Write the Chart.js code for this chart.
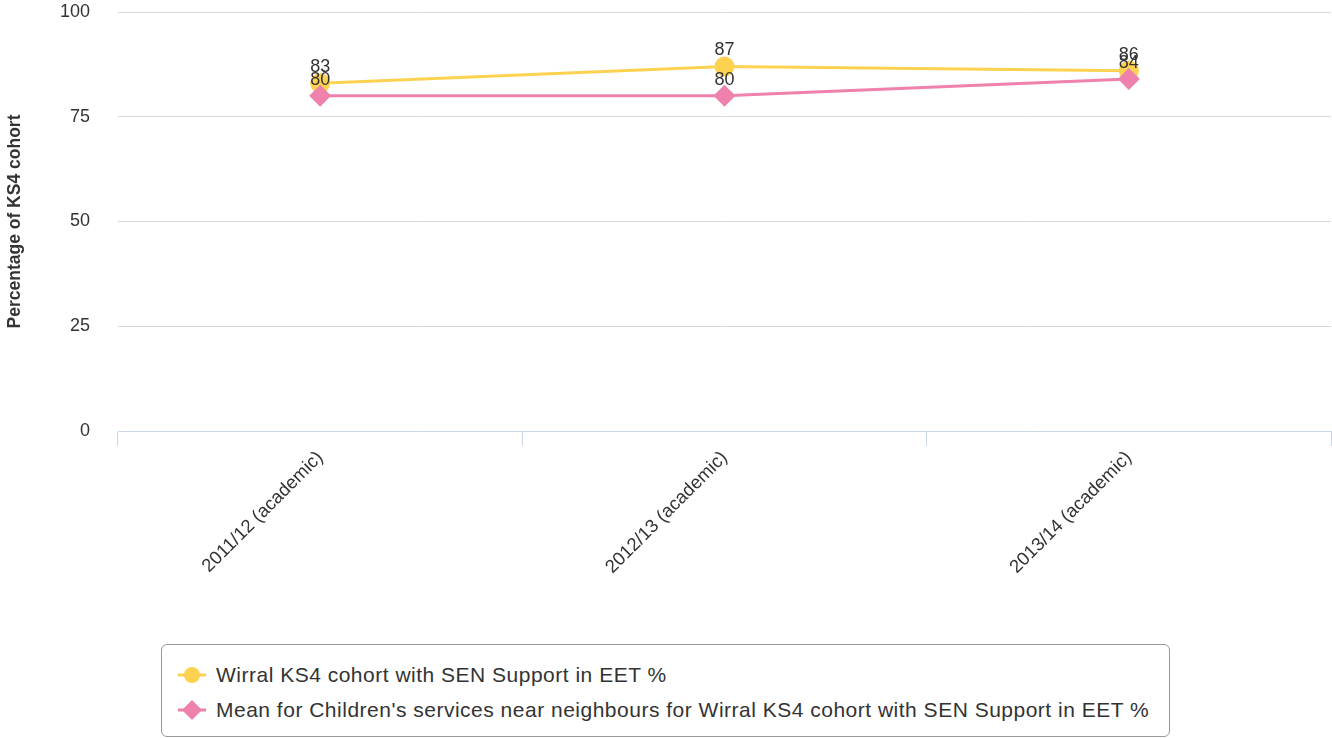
<!DOCTYPE html>
<html>
<head>
<meta charset="utf-8">
<script src="https://cdn.jsdelivr.net/npm/chart.js@4/dist/chart.umd.min.js"></script>
<style>
  body { margin: 0; background: #fff; font-family: "Liberation Sans", Arial, sans-serif; }
  #wrap { position: relative; width: 1332px; height: 738px; }
  #chartBox { position: absolute; left: 0; top: 0; width: 1332px; height: 640px; }
  #legend {
    position: absolute; left: 161px; top: 644px; width: 1009px; height: 93px;
    border: 1px solid #999; border-radius: 6px; box-sizing: border-box;
  }
  .item { position: absolute; left: 16px; height: 24px; display: flex; align-items: center;
    font-size: 21px; letter-spacing: 0.5px; color: #333; white-space: nowrap; }
  .item svg { margin-right: 10px; }
</style>
</head>
<body>
<div id="wrap">
  <div id="chartBox"><canvas id="chart"></canvas></div>
  <div id="legend"></div>
</div>
<script>
const categories = ['2011/12 (academic)', '2012/13 (academic)', '2013/14 (academic)'];
const wirralValues = [83, 87, 86];
const neighbourValues = [80, 80, 84];
const seriesNames = [
  'Wirral KS4 cohort with SEN Support in EET %',
  "Mean for Children's services near neighbours for Wirral KS4 cohort with SEN Support in EET %"
];
const yTicks = [0, 25, 50, 75, 100];

const yellow = 'rgb(253,210,80)';
const pink = 'rgb(238,130,172)';

// value labels above each point
const pointLabels = {
  id: 'pointLabels',
  afterDatasetsDraw(chart) {
    const ctx = chart.ctx;
    ctx.save();
    ctx.font = '18px "Liberation Sans", Arial, sans-serif';
    ctx.fillStyle = '#333';
    ctx.textAlign = 'center';
    ctx.textBaseline = 'middle';
    chart.data.datasets.forEach((ds, i) => {
      chart.getDatasetMeta(i).data.forEach((pt, j) => {
        ctx.fillText(ds.data[j], pt.x, pt.y - 16);
      });
    });
    ctx.restore();
  }
};

new Chart(document.getElementById('chart'), {
  type: 'line',
  data: {
    labels: categories,
    datasets: [{
      label: seriesNames[0],
      data: wirralValues,
      borderColor: yellow,
      backgroundColor: yellow,
      borderWidth: 3,
      pointStyle: 'circle',
      pointRadius: 10,
      pointBorderWidth: 0,
      order: 1
    }, {
      label: seriesNames[1],
      data: neighbourValues,
      borderColor: pink,
      backgroundColor: pink,
      borderWidth: 3,
      pointStyle: 'rectRot',
      pointRadius: 11,
      pointBorderWidth: 0,
      order: 0
    }]
  },
  options: {
    responsive: true,
    maintainAspectRatio: false,
    animation: false,
    layout: { autoPadding: false, padding: { top: 12, right: 1, left: 0, bottom: 0 } },
    plugins: { legend: { display: false }, tooltip: { enabled: false } },
    scales: {
      x: {
        offset: true,
        afterFit: s => { s.height = 209; s.paddingLeft = 0; s.paddingRight = 0; },
        grid: { offset: true, drawOnChartArea: false, drawTicks: true, tickLength: 15, color: '#ccd6eb' },
        border: { color: '#ccd6eb', width: 1 },
        ticks: {
          minRotation: 45, maxRotation: 45, padding: 1,
          color: '#333', font: { size: 18.5, family: '"Liberation Sans", Arial, sans-serif' }
        }
      },
      y: {
        min: 0, max: 100,
        afterFit: s => { s.width = 118; s.paddingTop = 0; s.paddingBottom = 0; },
        afterBuildTicks: s => { s.ticks = yTicks.map(v => ({ value: v })); },
        grid: { drawTicks: false, color: c => c.tick && c.tick.value === 0 ? 'rgba(0,0,0,0)' : '#d8d8d8' },
        border: { display: false },
        ticks: {
          padding: 28, color: '#333',
          font: { size: 18, family: '"Liberation Sans", Arial, sans-serif' }
        },
        title: {
          display: true, text: 'Percentage of KS4 cohort', color: '#333',
          padding: { top: 5, bottom: 0 },
          font: { size: 17.5, weight: 'bold', family: '"Liberation Sans", Arial, sans-serif' }
        }
      }
    }
  },
  plugins: [pointLabels]
});

// legend built from the series names
const legend = document.getElementById('legend');
const markers = [
  `<svg width="28" height="20"><line x1="0" y1="10" x2="28" y2="10" stroke="${yellow}" stroke-width="3"/><circle cx="14" cy="10" r="8" fill="${yellow}"/></svg>`,
  `<svg width="28" height="22"><line x1="0" y1="11" x2="28" y2="11" stroke="${pink}" stroke-width="3"/><polygon points="14,1 24,11 14,21 4,11" fill="${pink}"/></svg>`
];
seriesNames.forEach((name, i) => {
  const d = document.createElement('div');
  d.className = 'item';
  d.style.top = (18 + i * 35) + 'px';
  d.innerHTML = markers[i] + '<span>' + name + '</span>';
  legend.appendChild(d);
});
</script>
</body>
</html>
